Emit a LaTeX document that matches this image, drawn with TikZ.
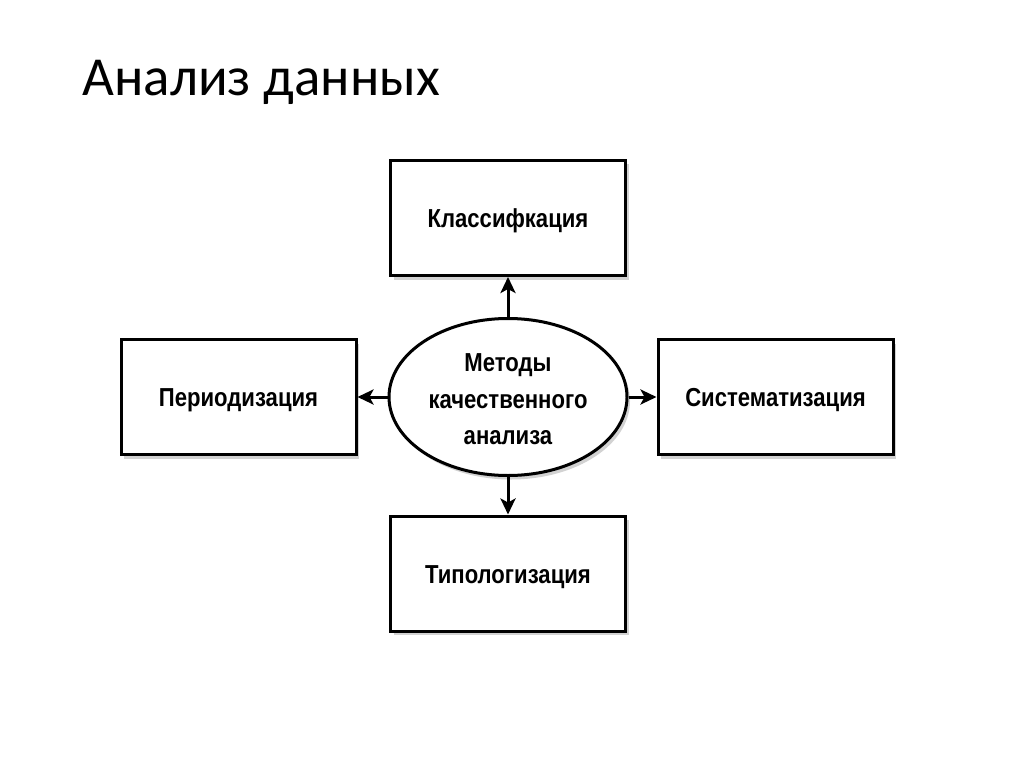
\documentclass[tikz,border=0pt]{standalone}
\usepackage{fontspec}
\setmainfont{Liberation Sans}
\newfontfamily\boxfont{Liberation Sans}[FakeStretch=0.85]
\newfontfamily\titlefont{Carlito}
\usetikzlibrary{arrows.meta,shapes.geometric,shadows}
\begin{document}
\begin{tikzpicture}[x=1pt,y=-1pt,
  box/.style={draw=black,line width=3pt,fill=white,minimum width=235pt,minimum height=115pt,inner sep=0pt,
    text height=19pt,text depth=0pt,
    font=\boxfont\fontsize{26}{30}\selectfont\bfseries,
    drop shadow={shadow xshift=3pt,shadow yshift=-4pt,opacity=0.35,fill=gray}},
  oval/.style={ellipse,draw=black,line width=3pt,fill=white,minimum width=238pt,minimum height=157pt,inner sep=0pt,
    align=center,font=\boxfont\fontsize{26}{36.5}\selectfont\bfseries,
    drop shadow={shadow xshift=3pt,shadow yshift=-4pt,opacity=0.35,fill=gray}},
  conn/.style={line width=3pt,-{Stealth[length=16pt,width=15pt,inset=4pt]}}]
\useasboundingbox[fill=white] (0,0) rectangle (1024,767);
\node[anchor=base west,font=\titlefont\fontsize{55}{66}\selectfont] (title) at (79,96) {Анализ данных};
\node[box] (top) at (508,218) {Классифкация};
\node[box] (left) at (238.5,397) {Периодизация};
\node[box] (right) at (775.5,397) {Систематизация};
\node[box] (bottom) at (508,573.5) {Типологизация};
\node[oval] (center) at (508,397) {\rule{0pt}{22.6pt}Методы\\качественного\\анализа};
\draw[conn] (center.north) -- (top.south);
\draw[conn] (center.west) -- (left.east);
\draw[conn] (center.east) -- (right.west);
\draw[conn] (center.south) -- (bottom.north);
\end{tikzpicture}
\end{document}
